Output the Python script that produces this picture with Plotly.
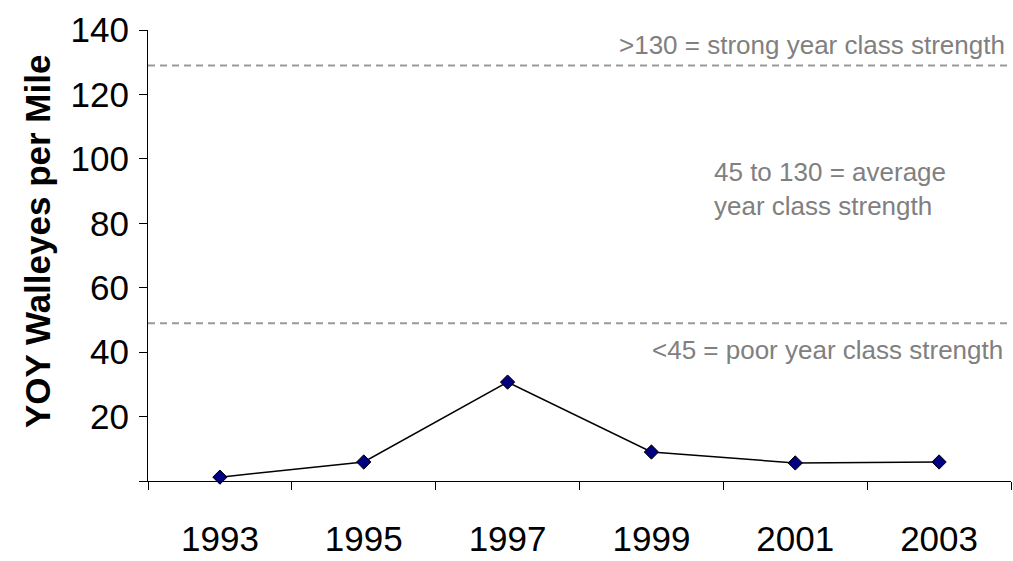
import plotly.graph_objects as go

years = ["1993", "1995", "1997", "1999", "2001", "2003"]
yoy_per_mile = [1.2, 5.9, 30.7, 9.0, 5.6, 5.9]

threshold_values = [129, 49]
strong_label = ">130 = strong year class strength"
poor_label = "<45 = poor year class strength"
middle_label = "45 to 130 = average<br>year class strength"
y_title = "<b>YOY Walleyes per Mile</b>"
y_ticks = [0, 20, 40, 60, 80, 100, 120, 140]
y_tick_text = ["", "20", "40", "60", "80", "100", "120", "140"]

font_family = "Liberation Sans, Arial, sans-serif"
gray = "#808080"

fig = go.Figure()
fig.add_trace(go.Scatter(
    x=years, y=yoy_per_mile, mode="lines+markers",
    line=dict(color="black", width=1.5),
    marker=dict(symbol="diamond", size=11, color="#000080",
                line=dict(color="black", width=1)),
    showlegend=False, cliponaxis=False,
))

for v in threshold_values:
    fig.add_shape(type="line", xref="paper", yref="y", x0=0, x1=1, y0=v, y1=v,
                  line=dict(color="#999999", width=2, dash="7px,5px"), layer="below")

fig.add_annotation(text=strong_label, xref="paper", yref="y", x=0.9954, y=135.4,
                   xanchor="right", yanchor="middle", showarrow=False,
                   font=dict(family=font_family, size=26, color=gray))
fig.add_annotation(text=poor_label, xref="paper", yref="y", x=0.993, y=40.6,
                   xanchor="right", yanchor="middle", showarrow=False,
                   font=dict(family=font_family, size=26, color=gray))
fig.add_annotation(text=middle_label, xref="paper", yref="y", x=0.6535, y=90.7,
                   xanchor="left", yanchor="middle", align="left", showarrow=False,
                   font=dict(family=font_family, size=26, color=gray))
fig.add_annotation(text=y_title, xref="paper", yref="paper", x=-0.1286, y=0.532,
                   xanchor="center", yanchor="middle", textangle=-90, showarrow=False,
                   font=dict(family=font_family, size=35, color="black"))

fig.update_layout(
    width=1013, height=561,
    margin=dict(l=148, r=2, t=30, b=80),
    paper_bgcolor="white", plot_bgcolor="white",
    font=dict(family=font_family, color="black"),
)
fig.update_xaxes(
    type="category", tickson="boundaries", ticks="outside", ticklen=8, tickwidth=1,
    tickcolor="black", showline=True, linecolor="black", linewidth=1,
    showgrid=False, zeroline=False, tickfont=dict(size=35), ticklabelstandoff=27,
    range=[-0.5, 5.5],
)
fig.update_yaxes(
    range=[0, 140], tickvals=y_ticks, ticktext=y_tick_text, ticks="outside", ticklen=8,
    tickcolor="black", showline=True, linecolor="black", linewidth=1,
    showgrid=False, zeroline=False, tickfont=dict(size=35), ticklabelstandoff=3,
)

fig.write_html(
    "out.html",
    config={"displayModeBar": False},
    post_script="document.body.style.margin='0';document.body.style.overflow='hidden';",
)
